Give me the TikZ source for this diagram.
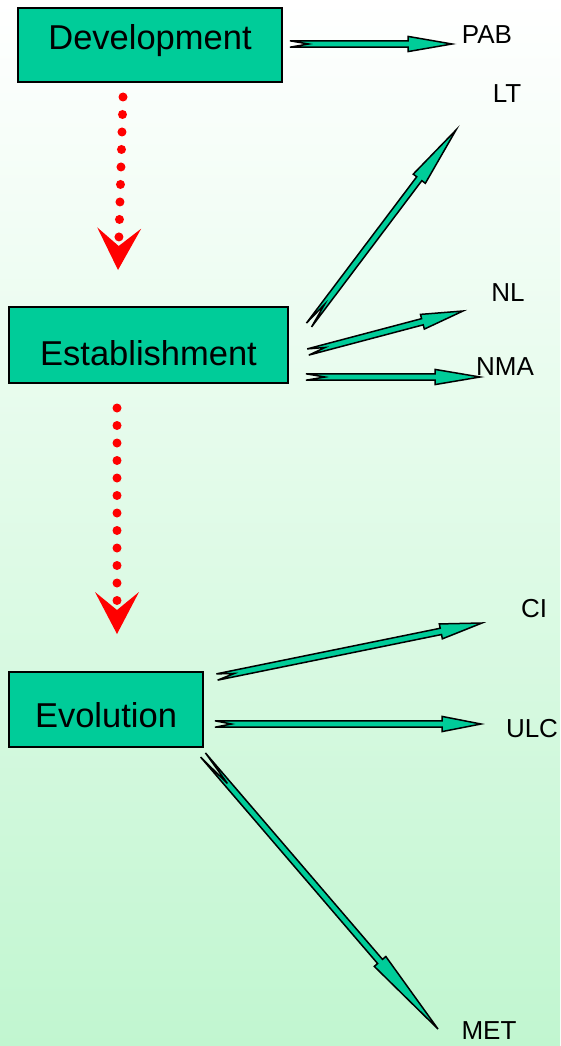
\documentclass[tikz,border=0pt]{standalone}
\usepackage{fontspec}
\setmainfont{Liberation Sans}
\usetikzlibrary{calc,arrows.meta}

\definecolor{stagegreen}{RGB}{0,204,153}
\definecolor{bgbottom}{RGB}{193,246,208}

\tikzset{
  stagebox/.style={draw=black, line width=1.5pt, fill=stagegreen, inner sep=0pt, font=\fontsize{34.5}{40}\selectfont},
  tag/.style={inner sep=0pt, font=\fontsize{26}{30}\selectfont},
  flowarrow/.style={draw=black, line width=1.5pt, fill=stagegreen, line join=miter},
  dotflow/.style={red, line width=9pt, line cap=round, dash pattern=on 0pt off 17.5pt,
    -{Stealth[length=42pt,width=44pt,inset=18pt,line width=0pt]}},
}

% notched block arrow: [head length]{tail}{tip}
\newcommand{\notcharrow}[3][44]{%
  \pgfmathsetmacro\notchd{#1*3.2/7.6}%
  \coordinate (na-h) at ($(#3)!#1pt!(#2)$);
  \coordinate (na-n) at ($(#2)!\notchd pt!(#3)$);
  \draw[flowarrow] ($(#2)!3.2pt!90:(#3)$) -- ($(na-h)!3.2pt!90:(#3)$)
    -- ($(na-h)!7.6pt!90:(#3)$) -- (#3) -- ($(na-h)!7.6pt!-90:(#3)$)
    -- ($(na-h)!3.2pt!-90:(#3)$) -- ($(#2)!3.2pt!-90:(#3)$) -- (na-n) -- cycle;
}

\begin{document}
\begin{tikzpicture}[x=1pt,y=-1pt]
\shade[top color=white, bottom color=bgbottom] (0,0) rectangle (560,1046);
\useasboundingbox (0,0) rectangle (560,1046);

% stages
\node[stagebox, minimum width=264pt, minimum height=74pt, text height=24pt, text depth=14pt] (dev) at (150,45) {Development};
\node[stagebox, minimum width=279pt, minimum height=76pt, text height=40pt, text depth=0pt] (est) at (148.5,345) {Establishment};
\node[stagebox, minimum width=194pt, minimum height=75pt, text height=35pt, text depth=0pt] (evo) at (106,709.5) {Evolution};

% outcomes
\node[tag] (pab) at (487,35) {PAB};
\node[tag] (lt) at (507,94) {LT};
\node[tag] (nl) at (508,293) {NL};
\node[tag] (nma) at (505,367) {NMA};
\node[tag] (ci) at (534,609) {CI};
\node[tag] (ulc) at (532,729) {ULC};
\node[tag] (met) at (489,1031) {MET};

% stage to stage
\coordinate (dev-s) at (123,97);
\coordinate (est-t) at (118,270);
\coordinate (est-s) at (117,408);
\coordinate (evo-t) at (117,634);
\draw[dotflow] (dev-s) -- (est-t);
\draw[dotflow] (est-s) -- (evo-t);

% arrow ends
\coordinate (dev-pab) at (290,44);
\coordinate (pab-in) at (452,44);
\coordinate (est-lt) at (309,325);
\coordinate (lt-in) at (456,130);
\coordinate (est-nl) at (308,352);
\coordinate (nl-in) at (463,311);
\coordinate (est-nma) at (306,377);
\coordinate (nma-in) at (480,377);
\coordinate (evo-ci) at (217,677);
\coordinate (ci-in) at (482,623);
\coordinate (evo-ulc) at (215,724);
\coordinate (ulc-in) at (481,724);
\coordinate (evo-met) at (203,755);
\coordinate (met-in) at (438,1029);

\notcharrow[44]{dev-pab}{pab-in}
\notcharrow[61]{est-lt}{lt-in}
\notcharrow[42]{est-nl}{nl-in}
\notcharrow[45]{est-nma}{nma-in}
\notcharrow[42]{evo-ci}{ci-in}
\notcharrow[39]{evo-ulc}{ulc-in}
\notcharrow[89]{evo-met}{met-in}
\end{tikzpicture}
\end{document}
